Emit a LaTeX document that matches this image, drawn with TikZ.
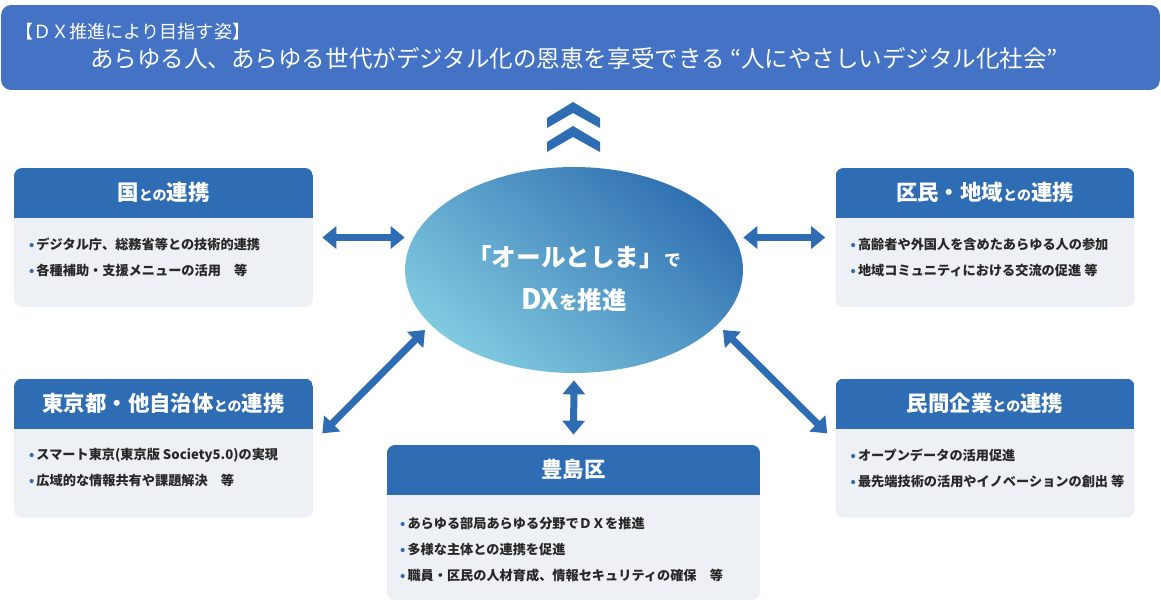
\documentclass[tikz,border=0pt]{standalone}
\usepackage{fontspec}
\setmainfont{Noto Sans CJK JP}
\usepackage{tikz}
\usetikzlibrary{positioning,shapes.geometric,arrows.meta}

\definecolor{bannerblue}{RGB}{68,114,196}
\definecolor{hdrblue}{RGB}{46,108,180}
\definecolor{bodygray}{RGB}{237,240,245}
\definecolor{elltop}{RGB}{48,112,178}
\definecolor{ellbot}{RGB}{128,202,224}
\definecolor{bodytext}{RGB}{40,40,40}

\newcommand{\tono}{{\fontsize{8}{8}\selectfont との}}
\newcommand{\itm}{\textcolor{hdrblue}{•}\,}

\begin{document}
\begin{tikzpicture}[x=0.02cm,y=-0.02cm,
	panel/.style={fill=bodygray, rounded corners=0.16cm, minimum width=5.98cm, minimum height=2.78cm, inner sep=0pt,
		path picture={\fill[hdrblue,sharp corners] (path picture bounding box.north west) rectangle ([yshift=-1cm]path picture bounding box.north east);}},
	hdr/.style={text=white, font=\fontsize{12.2}{12.2}\selectfont\bfseries, inner sep=0pt},
	bul/.style={text=bodytext, font=\fontsize{7.5}{14.8}\selectfont\bfseries, align=left, anchor=north west, inner sep=0pt},
	dbl/.style={{Triangle[width=0.44cm,length=0.28cm]}-{Triangle[width=0.44cm,length=0.28cm]}, line width=0.14cm, draw=hdrblue}]
		\useasboundingbox (0,0) rectangle (1161,602);
		
		\node[fill=bannerblue, rounded corners=0.2cm, minimum width=23.18cm, minimum height=1.7cm] (goal) at (580.5,47.5) {};
		\node[text=white, font=\fontsize{10.3}{10.3}\selectfont, anchor=west, inner sep=0pt] (sub) at (15,32) {【ＤＸ推進により目指す姿】};
		\node[text=white, font=\fontsize{13.4}{13.4}\selectfont, inner sep=0pt] (title) at (574,58) {あらゆる人、あらゆる世代がデジタル化の恩恵を享受できる “人にやさしいデジタル化社会”};
		
		\foreach \t in {102,126}
			\fill[hdrblue] (547,\t+16) -- (573,\t) -- (600,\t+16) -- (600,\t+26) -- (573,\t+11) -- (547,\t+26) -- cycle;
		
		\node[ellipse, minimum width=6.76cm, minimum height=4.12cm, top color=elltop, bottom color=ellbot, shading angle=-40] (dx) at (574,270) {};
		\node[text=white, font=\fontsize{14}{24.5}\selectfont\bfseries, align=center, inner sep=0pt] (dxt) at ([yshift=-0.17cm]dx.center) {「オールとしま」{\fontsize{9.5}{9.5}\selectfont で}\\{\fontsize{16}{16}\selectfont DX}{\fontsize{10.5}{10.5}\selectfont を}推進};
		
		\node[panel] (kuni) at (163.5,237.5) {};
		\node[panel, right=10.44cm of kuni] (kumin) {};
		\node[panel, below=1.42cm of kuni] (tokyo) {};
		\node[panel, below=1.42cm of kumin] (minkan) {};
		\node[panel, minimum width=7.46cm, minimum height=3.1cm] (toshima) at (573.5,522.5) {};
		
		\node[hdr] at ([yshift=-0.5cm]kuni.north) {国\tono 連携};
		\node[hdr] at ([yshift=-0.5cm]kumin.north) {区民・地域\tono 連携};
		\node[hdr] at ([yshift=-0.5cm]tokyo.north) {東京都・他自治体\tono 連携};
		\node[hdr] at ([yshift=-0.5cm]minkan.north) {民間企業\tono 連携};
		\node[hdr] at ([yshift=-0.5cm]toshima.north) {豊島区};
		
		\node[bul] (kunil) at ([shift={(15,70)}]kuni.north west) {\itm デジタル庁、総務省等との技術的連携\\\itm 各種補助・支援メニューの活用　等};
		\node[bul] (kuminl) at ([shift={(15,70)}]kumin.north west) {\itm 高齢者や外国人を含めたあらゆる人の参加\\\itm 地域コミュニティにおける交流の促進 等};
		\node[bul] (tokyol) at ([shift={(15,70)}]tokyo.north west) {\itm スマート東京(東京版 Society5.0)の実現\\\itm 広域的な情報共有や課題解決　等};
		\node[bul] (minkanl) at ([shift={(15,70)}]minkan.north west) {\itm オープンデータの活用促進\\\itm 最先端技術の活用やイノベーションの創出 等};
		\node[bul] (toshimal) at ([shift={(13,72)}]toshima.north west) {\itm あらゆる部局あらゆる分野でＤＸを推進\\\itm 多様な主体との連携を促進\\\itm 職員・区民の人材育成、情報セキュリティの確保　等};
		
		\draw[dbl] ([xshift=0.18cm]kuni.east) -- (kuni.east -| dx.west);
		\draw[dbl] ([xshift=-0.2cm]kumin.west) -- (kumin.west -| dx.east);
		\draw[dbl] ([shift={(9,55)}]tokyo.north east) -- ([shift={(-149,60)}]dx.center);
		\draw[dbl] ([shift={(-8,55)}]minkan.north west) -- ([shift={(149,60)}]dx.center);
		\draw[dbl] ([yshift=-0.14cm]dx.south) -- ([yshift=0.2cm]toshima.north);
	\end{tikzpicture}
\end{document}
